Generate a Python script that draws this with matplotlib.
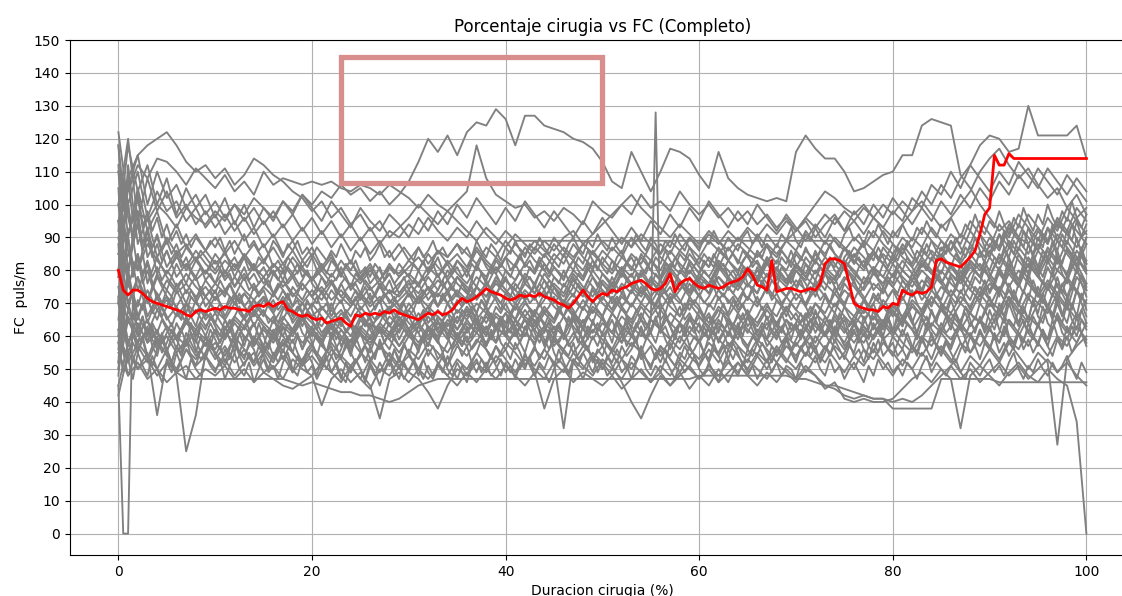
import matplotlib.pyplot as plt
import matplotlib.patches as patches
import numpy as np

# FC (puls/m) de cada cirugia, muestreada de forma uniforme sobre la duracion (0-100 %)
p01 = [85, 92, 98, 95, 100, 97, 93, 99, 96, 94,
       98, 95, 100, 97, 102, 99, 96, 101, 98, 103,
       100, 104, 102, 106, 103, 105, 101, 104, 100, 103,
       107, 113, 120, 116, 121, 115, 122, 125, 124, 129,
       126, 118, 127, 127, 124, 123, 122, 120, 119, 117,
       113, 107, 105, 116, 110, 104, 110, 117, 116, 114,
       109, 105, 116, 108, 105, 103, 102, 101, 102, 101,
       116, 121, 117, 114, 114, 110, 104, 105, 107, 109,
       110, 115, 115, 124, 126, 125, 124, 109, 105, 100,
       96, 92, 95, 90, 88, 93, 89, 94, 91, 96, 99]
p02 = [110, 104, 112, 108, 114, 113, 110, 106, 111, 108,
       105, 109, 104, 107, 103, 110, 106, 108, 107, 106,
       107, 106, 107, 105, 104, 106, 105, 103, 106, 104,
       102, 99, 103, 100, 98, 101, 104, 118, 108, 103,
       101, 99, 100, 96, 98, 95, 99, 97, 94, 101,
       98, 96, 100, 97, 103, 99, 101, 98, 104, 100,
       97, 100, 96, 99, 95, 98, 94, 97, 93, 96,
       92, 95, 90, 94, 97, 92, 95, 91, 96, 93,
       98, 95, 102, 99, 106, 103, 110, 105, 112, 108,
       104, 110, 106, 113, 109, 105, 111, 107, 103, 108, 104]
p03 = [95, 108, 115, 118, 120, 122, 118, 113, 110, 112,
       108, 111, 106, 109, 114, 112, 109, 107, 104, 102,
       98, 101, 96, 99, 94, 97, 92, 95, 90, 93,
       96, 100, 97, 94, 98, 95, 92, 89, 93, 90,
       87, 91, 88, 85, 89, 86, 90, 92, 88, 91,
       94, 97, 100, 103, 99, 96, 93, 90, 94, 91,
       88, 92, 89, 86, 90, 87, 84, 88, 85, 89,
       92, 96, 100, 104, 102, 99, 97, 100, 96, 93,
       90, 94, 98, 101, 97, 93, 96, 100, 104, 110,
       114, 117, 112, 108, 111, 106, 102, 105, 99, 103, 97]
p04 = [78, 85, 80, 88, 83, 79, 84, 81, 86, 82,
       79, 83, 80, 85, 81, 78, 82, 79, 84, 80,
       77, 81, 78, 83, 79, 76, 80, 77, 82, 78,
       81, 84, 80, 86, 82, 85, 81, 87, 83, 80,
       84, 88, 85, 89, 86, 83, 87, 84, 88, 85,
       89, 86, 90, 87, 91, 88, 85, 89, 86, 90,
       87, 91, 88, 92, 89, 93, 90, 94, 91, 95,
       92, 96, 93, 97, 94, 98, 95, 99, 96, 100,
       97, 101, 98, 104, 100, 106, 102, 108, 112, 118,
       121, 120, 116, 117, 130, 121, 121, 121, 121, 124, 114]
p05 = [45, 58, 50, 55, 36, 53, 49, 56, 51, 54,
       50, 53, 48, 52, 55, 49, 51, 47, 53, 50,
       48, 52, 49, 46, 51, 47, 44, 50, 48, 53,
       49, 47, 43, 38, 45, 50, 48, 52, 49, 54,
       51, 48, 53, 50, 47, 52, 49, 55, 51, 48,
       53, 50, 47, 52, 49, 46, 51, 48, 53, 50,
       47, 51, 48, 52, 49, 53, 50, 47, 52, 49,
       46, 50, 48, 45, 44, 42, 41, 42, 41, 41,
       40, 41, 40, 42, 45, 48, 51, 47, 50, 46,
       49, 52, 48, 51, 47, 50, 53, 49, 52, 48, 45]
p06 = [62, 48, 57, 52, 59, 54, 50, 56, 53, 58,
       55, 51, 57, 54, 60, 56, 52, 58, 55, 51,
       54, 50, 56, 53, 49, 55, 52, 57, 54, 50,
       56, 53, 58, 55, 51, 57, 54, 59, 56, 52,
       58, 55, 51, 56, 53, 59, 55, 52, 57, 54,
       50, 56, 53, 58, 55, 51, 57, 54, 60, 56,
       53, 58, 55, 61, 57, 54, 59, 56, 52, 57,
       54, 59, 55, 52, 57, 54, 50, 56, 53, 58,
       55, 51, 57, 54, 59, 56, 52, 58, 55, 61,
       57, 53, 59, 56, 62, 58, 54, 60, 57, 63, 59]
p07 = [70, 55, 64, 58, 61, 56, 60, 57, 62, 59,
       56, 61, 58, 63, 59, 55, 60, 57, 62, 58,
       61, 57, 54, 59, 56, 61, 58, 62, 59, 55,
       60, 57, 62, 58, 55, 60, 57, 61, 58, 63,
       60, 56, 61, 58, 63, 59, 56, 61, 57, 62,
       59, 55, 60, 57, 62, 58, 54, 59, 56, 61,
       58, 63, 59, 56, 61, 57, 62, 59, 55, 60,
       57, 62, 58, 64, 60, 56, 61, 58, 63, 59,
       62, 58, 55, 60, 57, 62, 59, 64, 60, 57,
       62, 58, 65, 61, 57, 63, 59, 66, 62, 58, 64]
p08 = [52, 68, 60, 65, 58, 63, 59, 64, 61, 57,
       62, 59, 64, 60, 57, 62, 58, 63, 60, 65,
       61, 58, 63, 59, 64, 61, 57, 62, 59, 64,
       60, 63, 59, 64, 61, 58, 62, 65, 61, 58,
       63, 60, 65, 62, 58, 63, 60, 66, 62, 59,
       64, 61, 58, 63, 60, 65, 62, 59, 64, 61,
       66, 62, 59, 64, 61, 57, 62, 59, 64, 60,
       63, 59, 64, 61, 66, 62, 58, 63, 60, 65,
       61, 66, 62, 59, 64, 61, 67, 63, 60, 65,
       62, 68, 64, 60, 66, 63, 69, 65, 61, 67, 63]
p09 = [75, 58, 66, 61, 68, 63, 60, 65, 62, 67,
       64, 60, 65, 62, 67, 63, 59, 64, 61, 66,
       62, 59, 64, 60, 57, 62, 59, 63, 60, 65,
       61, 64, 60, 66, 62, 59, 64, 61, 67, 63,
       60, 65, 62, 68, 64, 61, 66, 63, 59, 64,
       61, 67, 63, 60, 65, 62, 68, 64, 61, 66,
       63, 59, 64, 61, 66, 62, 59, 64, 60, 65,
       62, 67, 63, 60, 65, 61, 66, 63, 59, 64,
       60, 65, 62, 67, 63, 69, 65, 62, 67, 64,
       70, 66, 72, 68, 64, 70, 67, 73, 69, 65, 71]
p10 = [90, 70, 78, 66, 72, 65, 69, 64, 68, 63,
       67, 62, 66, 63, 68, 64, 61, 66, 62, 67,
       64, 60, 65, 62, 58, 63, 60, 64, 61, 66,
       62, 67, 63, 60, 65, 62, 68, 64, 61, 66,
       63, 69, 65, 62, 67, 64, 70, 66, 63, 68,
       65, 61, 66, 63, 69, 65, 62, 67, 64, 70,
       66, 63, 68, 65, 61, 66, 63, 68, 64, 69,
       65, 62, 67, 64, 70, 66, 63, 68, 65, 71,
       67, 64, 69, 66, 72, 68, 65, 70, 67, 73,
       69, 75, 71, 67, 73, 70, 76, 72, 68, 78, 74]
p11 = [58, 80, 65, 74, 68, 71, 66, 70, 67, 72,
       68, 65, 70, 66, 71, 67, 64, 69, 65, 70,
       66, 63, 68, 64, 60, 66, 62, 67, 63, 68,
       64, 61, 66, 62, 67, 64, 69, 65, 62, 67,
       64, 70, 66, 63, 68, 65, 71, 67, 64, 69,
       66, 72, 68, 65, 70, 67, 73, 69, 66, 71,
       68, 64, 69, 66, 71, 67, 64, 69, 66, 72,
       68, 65, 70, 67, 73, 69, 66, 71, 68, 64,
       69, 66, 71, 68, 74, 70, 67, 72, 69, 75,
       71, 68, 74, 70, 77, 73, 69, 76, 72, 80, 75]
p12 = [100, 75, 85, 70, 78, 72, 69, 74, 70, 67,
       72, 68, 73, 69, 66, 71, 67, 72, 68, 65,
       70, 66, 62, 67, 64, 69, 65, 61, 66, 63,
       68, 64, 69, 66, 63, 68, 65, 70, 67, 72,
       68, 65, 70, 67, 73, 69, 66, 71, 68, 74,
       70, 67, 72, 69, 75, 71, 68, 73, 70, 76,
       72, 69, 74, 71, 67, 72, 69, 75, 71, 68,
       73, 70, 76, 72, 69, 74, 71, 67, 72, 69,
       74, 71, 77, 73, 70, 75, 72, 78, 74, 71,
       76, 73, 79, 75, 82, 78, 74, 80, 77, 84, 79]
p13 = [65, 90, 74, 82, 71, 77, 73, 76, 72, 75,
       71, 74, 70, 73, 69, 72, 68, 71, 67, 70,
       66, 69, 65, 68, 64, 67, 63, 66, 69, 65,
       68, 72, 69, 73, 70, 74, 71, 75, 72, 76,
       73, 70, 74, 71, 77, 73, 70, 75, 72, 78,
       74, 71, 76, 73, 79, 75, 72, 77, 74, 80,
       76, 73, 78, 75, 71, 76, 73, 79, 75, 72,
       77, 74, 80, 76, 73, 78, 75, 71, 76, 73,
       79, 75, 72, 77, 74, 80, 76, 73, 79, 82,
       78, 85, 81, 77, 84, 80, 87, 83, 79, 86, 82]
p14 = [110, 80, 95, 76, 84, 78, 74, 79, 75, 72,
       76, 73, 78, 74, 71, 75, 72, 77, 73, 70,
       74, 71, 76, 72, 69, 73, 70, 75, 71, 68,
       73, 70, 75, 72, 77, 73, 70, 75, 72, 78,
       74, 71, 76, 73, 79, 75, 72, 77, 74, 80,
       76, 73, 79, 75, 72, 77, 74, 80, 76, 73,
       78, 75, 81, 77, 74, 79, 76, 82, 78, 75,
       80, 77, 83, 79, 76, 81, 78, 74, 79, 76,
       82, 78, 75, 80, 77, 83, 79, 76, 81, 78,
       84, 80, 87, 83, 79, 86, 82, 89, 85, 81, 88]
p15 = [85, 100, 80, 92, 79, 86, 78, 82, 77, 80,
       76, 80, 75, 79, 74, 78, 73, 77, 72, 76,
       72, 75, 71, 74, 70, 73, 69, 72, 68, 71,
       74, 70, 73, 77, 74, 78, 75, 72, 76, 73,
       77, 74, 71, 75, 72, 76, 73, 79, 75, 72,
       77, 74, 80, 76, 73, 78, 75, 81, 77, 74,
       79, 76, 82, 78, 75, 80, 77, 83, 79, 76,
       81, 78, 75, 80, 77, 83, 79, 76, 81, 78,
       75, 80, 77, 83, 79, 76, 82, 78, 85, 81,
       78, 84, 80, 87, 83, 79, 86, 82, 89, 84, 80]
p16 = [95, 78, 104, 84, 90, 81, 86, 80, 84, 79,
       83, 78, 82, 77, 81, 76, 80, 75, 79, 74,
       78, 73, 77, 72, 76, 71, 75, 70, 74, 72,
       76, 73, 78, 74, 80, 76, 73, 78, 75, 81,
       77, 74, 79, 76, 82, 78, 75, 80, 77, 83,
       79, 76, 81, 78, 84, 80, 77, 82, 79, 85,
       81, 78, 83, 80, 76, 81, 78, 84, 80, 77,
       82, 79, 85, 81, 78, 83, 80, 76, 81, 78,
       84, 80, 77, 82, 79, 85, 81, 78, 83, 80,
       86, 82, 89, 85, 81, 88, 84, 91, 87, 83, 90]
p17 = [70, 112, 88, 96, 84, 90, 85, 88, 83, 86,
       82, 85, 81, 84, 80, 83, 79, 82, 78, 81,
       77, 80, 76, 79, 75, 78, 74, 77, 73, 76,
       79, 76, 81, 78, 83, 79, 76, 81, 78, 84,
       80, 77, 82, 79, 85, 81, 78, 83, 80, 86,
       82, 79, 84, 81, 78, 83, 80, 86, 82, 79,
       84, 81, 87, 83, 80, 85, 82, 78, 83, 80,
       86, 82, 79, 84, 81, 87, 83, 80, 85, 82,
       88, 84, 81, 86, 83, 89, 85, 82, 87, 84,
       90, 86, 93, 89, 85, 92, 88, 95, 91, 87, 94]
p18 = [118, 90, 105, 92, 98, 88, 94, 87, 91, 86,
       90, 85, 89, 84, 88, 83, 87, 82, 86, 81,
       85, 80, 84, 79, 83, 78, 82, 77, 81, 79,
       83, 80, 85, 81, 78, 83, 80, 86, 82, 79,
       84, 81, 87, 83, 80, 85, 82, 88, 84, 81,
       86, 83, 80, 85, 82, 88, 84, 81, 86, 83,
       79, 84, 81, 87, 83, 80, 85, 82, 88, 84,
       81, 86, 83, 89, 85, 82, 87, 84, 80, 85,
       82, 88, 84, 81, 86, 83, 89, 85, 92, 88,
       84, 91, 87, 94, 90, 86, 93, 89, 96, 92, 88]
p19 = [100, 120, 95, 108, 98, 104, 96, 100, 94, 98,
       93, 97, 92, 96, 91, 95, 90, 94, 89, 93,
       88, 92, 87, 91, 86, 90, 85, 89, 84, 88,
       83, 87, 82, 86, 84, 88, 85, 82, 87, 84,
       89, 85, 82, 87, 84, 90, 86, 83, 88, 85,
       82, 87, 84, 90, 86, 83, 88, 85, 91, 87,
       84, 89, 86, 83, 88, 85, 91, 87, 84, 89,
       86, 92, 88, 85, 90, 87, 84, 89, 86, 92,
       88, 85, 90, 87, 93, 89, 86, 91, 88, 95,
       91, 87, 94, 90, 97, 93, 89, 96, 92, 99, 95]
p20 = [80, 105, 115, 100, 110, 102, 106, 99, 103, 97,
       101, 96, 100, 95, 99, 94, 98, 93, 97, 92,
       96, 91, 95, 90, 94, 89, 93, 88, 92, 90,
       94, 91, 96, 92, 89, 93, 90, 95, 91, 88,
       92, 89, 89, 89, 89, 89, 89, 89, 89, 89,
       89, 89, 89, 89, 89, 89, 89, 89, 89, 89,
       89, 89, 89, 89, 89, 89, 89, 89, 89, 89,
       89, 89, 89, 89, 89, 86, 90, 87, 92, 88,
       85, 90, 87, 93, 89, 86, 91, 88, 95, 91,
       87, 94, 90, 97, 93, 89, 96, 92, 99, 95, 91]
p21 = [60, 52, 58, 54, 50, 56, 48, 25, 36, 55,
       58, 54, 60, 56, 52, 57, 53, 59, 55, 51,
       56, 52, 49, 54, 51, 47, 53, 49, 55, 51,
       54, 50, 56, 52, 48, 53, 50, 55, 51, 57,
       53, 49, 54, 51, 56, 52, 32, 53, 50, 55,
       52, 48, 53, 50, 55, 51, 57, 53, 49, 54,
       51, 56, 52, 58, 54, 50, 55, 52, 57, 53,
       50, 55, 52, 57, 53, 49, 54, 51, 56, 52,
       48, 53, 50, 55, 51, 57, 53, 49, 54, 51,
       56, 52, 58, 54, 50, 55, 52, 27, 53, 57, 60]
p22 = [45, 0, 0, 72, 60, 66, 58, 63, 57, 61, 55, 60, 56, 62, 58, 64, 59, 55, 60, 57,
       62, 58, 63, 59, 55, 61, 57, 62, 58, 64, 60, 56, 61, 57, 63, 59, 55, 60, 56, 62,
       58, 54, 59, 55, 61, 57, 53, 58, 54, 60, 56, 52, 57, 53, 59, 55, 51, 56, 52, 58,
       54, 59, 55, 61, 57, 62, 58, 64, 60, 56, 61, 57, 63, 59, 65, 61, 57, 62, 58, 64,
       60, 66, 62, 58, 63, 59, 65, 61, 57, 62, 58, 64, 60, 66, 62, 58, 63, 59, 65, 61,
       57, 62, 58, 64, 60, 66, 62, 58, 63, 59, 65, 128, 61, 67, 63, 59, 64, 60, 66, 62,
       58, 63, 59, 65, 61, 67, 63, 59, 64, 60, 66, 62, 58, 63, 59, 65, 61, 67, 63, 59,
       64, 60, 66, 62, 68, 64, 60, 65, 61, 67, 63, 59, 64, 60, 66, 62, 68, 64, 60, 65,
       61, 67, 63, 69, 65, 61, 66, 62, 68, 64, 70, 66, 62, 67, 63, 69, 65, 61, 66, 62,
       68, 64, 70, 66, 72, 68, 64, 69, 65, 71, 67, 73, 69, 65, 70, 66, 72, 68, 74, 70,
       66]
p23 = [55, 48, 52, 47, 50, 46, 49, 47, 47, 47,
       47, 47, 47, 47, 47, 47, 47, 47, 46, 45,
       46, 45, 44, 43, 43, 42, 42, 41, 40, 41,
       43, 45, 46, 47, 47, 47, 47, 47, 47, 47,
       47, 47, 47, 47, 47, 47, 47, 47, 47, 47,
       47, 47, 47, 47, 47, 47, 47, 47, 47, 47,
       48, 48, 48, 48, 48, 48, 48, 48, 48, 48,
       47, 47, 46, 45, 45, 44, 43, 42, 41, 41,
       38, 38, 38, 38, 38, 47, 47, 47, 47, 47,
       47, 46, 46, 46, 46, 46, 46, 46, 46, 46, 46]
p24 = [50, 65, 58, 62, 56, 60, 55, 59, 54, 58,
       53, 57, 52, 56, 51, 55, 50, 54, 49, 53,
       57, 53, 58, 54, 59, 55, 60, 56, 61, 57,
       62, 58, 63, 59, 64, 60, 65, 61, 66, 62,
       67, 63, 68, 64, 69, 65, 70, 66, 71, 67,
       72, 68, 73, 69, 74, 70, 75, 71, 76, 72,
       77, 73, 78, 74, 79, 75, 80, 76, 81, 77,
       82, 78, 83, 79, 84, 80, 85, 81, 86, 82,
       78, 83, 79, 84, 80, 76, 81, 77, 82, 78,
       74, 79, 75, 80, 76, 72, 77, 73, 78, 74, 70]
p25 = [122, 100, 110, 96, 104, 98, 101, 95, 99, 93,
       97, 91, 95, 89, 93, 87, 91, 85, 89, 83,
       87, 81, 85, 79, 83, 77, 81, 75, 79, 73,
       77, 71, 75, 69, 73, 67, 71, 65, 69, 63,
       67, 61, 65, 59, 63, 57, 61, 55, 59, 53,
       57, 51, 46, 40, 35, 42, 48, 45, 49, 44,
       48, 45, 50, 46, 52, 48, 54, 50, 56, 52,
       58, 54, 60, 56, 62, 58, 64, 60, 66, 62,
       68, 64, 70, 66, 72, 68, 74, 70, 76, 72,
       78, 74, 80, 76, 82, 78, 84, 80, 86, 82, 76]
p26 = [92, 118, 104, 112, 100, 108, 97, 105, 99, 103,
       96, 102, 94, 100, 93, 99, 95, 101, 97, 103,
       99, 95, 101, 97, 93, 99, 95, 92, 97, 94,
       90, 96, 92, 98, 94, 100, 96, 102, 98, 94,
       99, 95, 101, 97, 93, 98, 94, 90, 95, 91,
       96, 92, 88, 93, 89, 95, 91, 97, 93, 99,
       95, 101, 97, 93, 98, 94, 100, 96, 92, 97,
       93, 89, 94, 90, 96, 92, 98, 94, 100, 96,
       102, 98, 94, 99, 95, 101, 97, 103, 99, 105,
       101, 107, 103, 109, 105, 111, 107, 103, 109, 105, 101]
p27 = [42, 55, 50, 53, 48, 52, 49, 51, 47, 50,
       48, 51, 47, 50, 46, 49, 47, 45, 44, 46,
       48, 39, 47, 50, 46, 49, 45, 35, 47, 49,
       46, 50, 47, 51, 48, 45, 49, 46, 50, 47,
       51, 48, 45, 49, 38, 47, 50, 46, 49, 47,
       45, 48, 44, 47, 50, 46, 49, 45, 48, 51,
       47, 50, 46, 49, 52, 48, 45, 49, 46, 50,
       47, 51, 48, 44, 46, 41, 40, 41, 40, 40,
       41, 44, 47, 49, 46, 50, 47, 32, 48, 51,
       48, 45, 49, 52, 48, 46, 50, 47, 45, 34, 0]

# cirugias con registro mas denso (un valor cada 0.5 %)
q01 = [58, 49, 53, 47, 55, 51, 48, 54, 50, 46, 52, 49, 55, 51, 47, 53, 50, 48, 54, 51,
       49, 53, 47, 51, 55, 50, 48, 52, 46, 50, 53, 49, 51, 47, 52, 55, 50, 48, 53, 49,
       51, 47, 50, 54, 49, 52, 48, 46, 51, 53, 50, 47, 52, 49, 45, 50, 53, 48, 51, 47,
       50, 52, 48, 53, 49, 47, 51, 54, 50, 48, 52, 49, 46, 51, 53, 49, 52, 48, 50, 53,
       49, 51, 47, 52, 50, 54, 48, 51, 49, 46, 50, 53, 51, 48, 52, 50, 47, 51, 54, 49,
       52, 48, 50, 53, 49, 51, 47, 52, 55, 50, 48, 51, 49, 53, 50, 47, 52, 49, 51, 54,
       50, 48, 52, 49, 46, 51, 53, 50, 48, 52, 49, 51, 47, 50, 53, 49, 52, 48, 51, 50,
       47, 52, 49, 51, 54, 50, 48, 53, 49, 51, 47, 50, 52, 49, 46, 51, 48, 53, 50, 52,
       49, 51, 48, 52, 50, 47, 51, 54, 49, 52, 50, 48, 51, 53, 49, 47, 52, 50, 48, 51,
       53, 49, 51, 48, 52, 55, 50, 47, 51, 49, 53, 50, 48, 52, 49, 51, 54, 50, 47, 52,
       49]
q02 = [62, 57, 53, 58, 55, 60, 54, 51, 56, 59, 55, 52, 57, 54, 58, 61, 56, 53, 55, 59,
       54, 57, 52, 56, 60, 55, 53, 58, 56, 51, 55, 58, 54, 57, 53, 56, 59, 55, 52, 56,
       58, 54, 51, 55, 57, 53, 56, 60, 55, 52, 54, 57, 53, 55, 58, 54, 51, 56, 53, 57,
       55, 52, 56, 59, 54, 57, 53, 55, 51, 56, 58, 54, 57, 52, 55, 59, 56, 53, 57, 54,
       56, 53, 58, 55, 51, 54, 57, 53, 56, 60, 55, 52, 56, 54, 58, 53, 55, 57, 52, 56,
       54, 58, 55, 52, 57, 54, 56, 59, 53, 55, 57, 53, 56, 52, 58, 55, 53, 57, 54, 56,
       59, 55, 52, 56, 54, 57, 53, 58, 55, 51, 56, 54, 58, 55, 52, 57, 54, 56, 60, 55,
       53, 56, 58, 54, 57, 52, 55, 59, 56, 53, 55, 58, 54, 56, 52, 57, 55, 59, 54, 56,
       58, 54, 56, 53, 57, 55, 60, 56, 53, 57, 54, 58, 55, 52, 56, 59, 55, 57, 53, 58,
       56, 60, 55, 58, 54, 57, 61, 56, 59, 55, 58, 62, 57, 54, 59, 56, 60, 55, 58, 61,
       57]
q03 = [48, 64, 58, 61, 56, 59, 63, 57, 60, 55, 58, 62, 59, 56, 61, 58, 55, 60, 57, 62,
       59, 56, 60, 63, 58, 55, 59, 61, 57, 60, 56, 58, 62, 59, 55, 60, 58, 61, 56, 59,
       57, 61, 58, 55, 59, 62, 57, 60, 56, 58, 61, 57, 55, 59, 62, 58, 56, 60, 57, 59,
       62, 58, 56, 60, 57, 61, 59, 55, 58, 62, 59, 57, 60, 56, 58, 61, 57, 60, 63, 58,
       56, 59, 61, 58, 55, 60, 57, 62, 59, 56, 60, 58, 61, 57, 59, 63, 58, 56, 60, 57,
       61, 58, 56, 59, 62, 57, 60, 58, 55, 59, 61, 58, 63, 59, 56, 60, 58, 62, 57, 60,
       58, 55, 60, 62, 58, 61, 57, 59, 63, 58, 56, 60, 58, 61, 57, 59, 62, 58, 60, 56,
       59, 62, 58, 60, 56, 59, 61, 58, 63, 60, 57, 59, 62, 58, 61, 57, 60, 63, 59, 56,
       60, 58, 62, 59, 56, 61, 58, 64, 60, 57, 61, 59, 56, 60, 63, 59, 61, 58, 62, 59,
       63, 59, 61, 66, 60, 58, 62, 65, 61, 59, 64, 60, 57, 62, 66, 61, 59, 63, 60, 65,
       62]
q04 = [72, 60, 66, 62, 58, 63, 65, 60, 62, 58, 61, 64, 59, 62, 66, 61, 58, 63, 60, 64,
       61, 58, 62, 65, 60, 63, 59, 61, 64, 60, 57, 62, 59, 63, 60, 58, 62, 65, 61, 59,
       63, 60, 57, 61, 64, 59, 62, 60, 58, 63, 61, 59, 64, 60, 62, 58, 61, 63, 59, 62,
       60, 64, 61, 58, 62, 60, 65, 61, 59, 63, 60, 62, 58, 61, 64, 60, 63, 59, 62, 65,
       61, 59, 63, 60, 62, 66, 61, 58, 62, 64, 60, 63, 59, 61, 65, 62, 59, 63, 61, 64,
       60, 62, 65, 61, 58, 63, 60, 64, 61, 59, 62, 66, 61, 63, 59, 62, 64, 60, 63, 61,
       64, 60, 62, 58, 63, 61, 65, 62, 59, 63, 61, 64, 60, 62, 66, 61, 59, 63, 60, 64,
       62, 59, 63, 65, 61, 64, 60, 62, 58, 63, 65, 61, 64, 60, 62, 59, 64, 61, 63, 66,
       61, 63, 60, 64, 62, 59, 63, 66, 62, 60, 64, 61, 63, 67, 62, 60, 64, 62, 65, 61,
       64, 67, 62, 60, 65, 63, 68, 64, 61, 66, 63, 69, 64, 62, 67, 64, 70, 65, 62, 68,
       64]
q05 = [56, 70, 64, 67, 62, 66, 60, 64, 61, 65, 62, 59, 64, 61, 66, 63, 60, 64, 62, 66,
       63, 60, 65, 62, 59, 63, 66, 62, 64, 60, 63, 61, 65, 62, 60, 64, 61, 63, 66, 62,
       60, 64, 61, 63, 59, 62, 65, 61, 63, 60, 62, 65, 62, 59, 63, 61, 64, 60, 62, 65,
       62, 59, 63, 66, 62, 64, 61, 63, 60, 65, 62, 64, 61, 63, 67, 62, 60, 64, 62, 65,
       63, 61, 65, 62, 60, 64, 67, 63, 61, 65, 62, 64, 60, 63, 66, 62, 65, 61, 64, 62,
       66, 63, 61, 65, 62, 64, 60, 63, 67, 64, 61, 65, 62, 66, 63, 60, 64, 62, 65, 63,
       61, 64, 66, 62, 65, 63, 60, 64, 62, 67, 63, 65, 61, 64, 62, 66, 63, 61, 65, 62,
       64, 67, 63, 61, 65, 62, 66, 64, 60, 64, 66, 63, 65, 61, 64, 67, 62, 65, 63, 66,
       62, 65, 63, 67, 64, 61, 65, 63, 68, 64, 62, 66, 64, 61, 65, 67, 63, 66, 64, 68,
       65, 62, 67, 64, 70, 66, 63, 68, 65, 71, 66, 64, 69, 66, 72, 67, 64, 70, 66, 73,
       68]
q06 = [95, 72, 68, 74, 66, 70, 64, 68, 65, 69, 66, 63, 67, 65, 70, 66, 63, 68, 65, 67,
       64, 68, 65, 62, 66, 69, 65, 67, 63, 66, 68, 64, 66, 62, 65, 68, 64, 66, 63, 67,
       65, 62, 66, 64, 60, 65, 63, 67, 64, 61, 65, 63, 66, 62, 64, 67, 63, 65, 61, 64,
       66, 63, 65, 68, 64, 66, 62, 65, 67, 63, 66, 64, 68, 65, 62, 66, 64, 67, 63, 66,
       64, 67, 65, 62, 66, 68, 64, 66, 63, 67, 65, 69, 66, 63, 67, 65, 62, 66, 64, 68,
       66, 63, 67, 65, 69, 66, 64, 68, 65, 62, 66, 68, 65, 67, 63, 66, 69, 65, 67, 64,
       68, 65, 67, 64, 66, 70, 66, 63, 67, 65, 68, 64, 66, 69, 65, 67, 63, 66, 68, 65,
       67, 64, 66, 69, 65, 68, 66, 63, 67, 65, 69, 66, 64, 68, 65, 67, 70, 66, 64, 68,
       66, 69, 65, 67, 64, 68, 66, 70, 67, 65, 68, 66, 71, 67, 64, 69, 67, 65, 70, 68,
       72, 68, 66, 71, 69, 74, 70, 67, 72, 69, 75, 71, 68, 73, 70, 76, 72, 69, 74, 71,
       76]
q07 = [52, 76, 70, 65, 71, 68, 72, 67, 70, 66, 69, 72, 68, 65, 70, 67, 71, 68, 66, 70,
       67, 70, 66, 69, 72, 67, 65, 69, 71, 68, 66, 70, 67, 64, 68, 70, 66, 69, 67, 71,
       68, 65, 69, 67, 70, 66, 64, 68, 66, 69, 67, 63, 67, 65, 68, 66, 69, 65, 67, 70,
       66, 68, 64, 67, 69, 65, 68, 66, 70, 67, 64, 68, 66, 69, 67, 71, 68, 65, 69, 67,
       70, 67, 65, 69, 71, 68, 66, 70, 67, 69, 72, 68, 66, 70, 68, 65, 69, 67, 71, 68,
       66, 70, 68, 72, 69, 67, 70, 68, 65, 69, 71, 68, 70, 67, 72, 69, 66, 70, 68, 71,
       69, 66, 70, 68, 72, 69, 67, 71, 68, 70, 66, 69, 72, 68, 70, 67, 71, 69, 66, 70,
       68, 71, 69, 66, 70, 68, 72, 69, 67, 71, 69, 73, 70, 67, 71, 68, 70, 73, 69, 67,
       70, 68, 72, 69, 74, 70, 67, 71, 69, 73, 70, 68, 72, 70, 74, 71, 68, 72, 70, 75,
       71, 69, 74, 71, 76, 72, 69, 74, 71, 77, 73, 70, 75, 72, 78, 73, 70, 76, 73, 79,
       74]
q08 = [88, 64, 78, 72, 69, 74, 71, 68, 73, 70, 72, 69, 74, 71, 67, 72, 70, 73, 69, 71,
       74, 70, 68, 72, 70, 73, 69, 71, 67, 70, 72, 69, 71, 68, 70, 73, 69, 71, 67, 70,
       69, 72, 68, 70, 66, 69, 71, 67, 69, 72, 68, 70, 67, 69, 71, 66, 68, 71, 69, 67,
       70, 68, 72, 69, 67, 71, 69, 73, 70, 68, 71, 69, 72, 70, 67, 71, 69, 73, 71, 68,
       72, 70, 68, 71, 73, 70, 72, 69, 71, 74, 70, 72, 69, 71, 73, 70, 68, 72, 70, 73,
       71, 74, 70, 72, 69, 71, 74, 72, 70, 73, 71, 69, 72, 74, 70, 73, 71, 68, 72, 70,
       73, 70, 72, 75, 71, 73, 70, 72, 69, 73, 71, 74, 70, 72, 75, 71, 73, 70, 72, 74,
       71, 73, 69, 72, 74, 71, 73, 70, 75, 72, 70, 73, 71, 74, 72, 69, 73, 71, 75, 72,
       74, 71, 73, 76, 72, 74, 71, 73, 77, 73, 71, 75, 72, 74, 78, 73, 71, 75, 73, 77,
       73, 76, 72, 78, 74, 71, 76, 73, 79, 75, 72, 77, 74, 80, 75, 73, 78, 74, 81, 76,
       72]
q09 = [60, 84, 76, 72, 78, 74, 71, 75, 73, 70, 74, 72, 76, 73, 70, 74, 71, 75, 72, 74,
       71, 74, 72, 76, 73, 70, 73, 71, 75, 72, 74, 70, 73, 71, 74, 72, 69, 73, 71, 74,
       72, 70, 74, 71, 68, 72, 70, 73, 71, 69, 72, 70, 73, 68, 71, 73, 70, 72, 69, 71,
       73, 70, 72, 74, 71, 73, 69, 72, 74, 71, 73, 70, 72, 75, 71, 73, 70, 74, 72, 70,
       73, 75, 72, 74, 71, 73, 76, 72, 74, 71, 75, 73, 70, 74, 72, 76, 73, 71, 75, 73,
       74, 72, 76, 73, 75, 71, 74, 76, 73, 75, 72, 74, 77, 73, 75, 72, 74, 76, 73, 75,
       72, 75, 73, 77, 74, 72, 75, 73, 76, 74, 71, 75, 73, 77, 74, 72, 76, 74, 72, 75,
       74, 77, 73, 75, 72, 76, 74, 78, 75, 72, 76, 74, 77, 73, 75, 78, 74, 76, 73, 77,
       75, 73, 77, 75, 79, 76, 73, 77, 75, 79, 76, 74, 78, 75, 80, 76, 74, 78, 76, 81,
       77, 75, 80, 77, 82, 78, 75, 80, 77, 83, 79, 76, 81, 78, 84, 79, 76, 82, 79, 85,
       80]
q10 = [105, 82, 90, 78, 84, 76, 80, 75, 79, 76, 74, 78, 75, 77, 73, 76, 78, 74, 77, 75,
       73, 77, 74, 76, 72, 75, 78, 74, 76, 73, 75, 77, 73, 76, 74, 71, 75, 73, 76, 74,
       72, 75, 73, 71, 74, 72, 76, 73, 71, 74, 72, 75, 71, 73, 76, 72, 74, 71, 73, 75,
       72, 74, 76, 73, 75, 72, 74, 77, 73, 75, 72, 76, 74, 71, 75, 73, 77, 74, 72, 76,
       74, 72, 76, 74, 78, 75, 73, 76, 74, 77, 75, 72, 76, 74, 78, 75, 73, 77, 75, 73,
       76, 74, 78, 75, 73, 77, 75, 79, 76, 74, 77, 75, 73, 77, 79, 75, 77, 74, 78, 76,
       74, 77, 75, 79, 76, 74, 78, 75, 77, 80, 76, 74, 78, 76, 73, 77, 75, 79, 76, 78,
       75, 78, 76, 73, 77, 75, 79, 76, 78, 74, 77, 79, 76, 74, 78, 76, 80, 77, 75, 78,
       76, 80, 77, 75, 79, 77, 74, 78, 76, 81, 77, 75, 79, 77, 82, 78, 76, 80, 78, 83,
       79, 77, 81, 78, 84, 80, 77, 82, 79, 85, 81, 78, 83, 80, 86, 81, 78, 84, 81, 87,
       82]
q11 = [70, 96, 86, 80, 85, 79, 83, 78, 81, 77, 80, 78, 82, 79, 76, 80, 78, 81, 77, 79,
       76, 80, 77, 79, 75, 78, 81, 77, 79, 76, 78, 75, 79, 77, 80, 76, 78, 75, 77, 80,
       76, 74, 78, 75, 77, 73, 76, 78, 74, 76, 73, 77, 75, 72, 76, 74, 77, 73, 75, 78,
       74, 77, 75, 78, 74, 76, 79, 75, 77, 74, 78, 76, 73, 77, 75, 79, 76, 74, 77, 75,
       78, 75, 77, 80, 76, 78, 75, 79, 77, 74, 78, 76, 80, 77, 75, 79, 77, 81, 78, 75,
       79, 77, 75, 79, 81, 77, 79, 76, 80, 78, 75, 79, 77, 81, 78, 76, 80, 78, 82, 79,
       77, 80, 78, 76, 80, 82, 78, 80, 77, 81, 79, 77, 81, 79, 83, 79, 77, 81, 79, 76,
       80, 78, 82, 79, 77, 81, 79, 83, 80, 78, 82, 79, 77, 81, 83, 79, 81, 78, 82, 80,
       78, 82, 80, 84, 81, 78, 82, 80, 84, 81, 79, 83, 81, 85, 82, 79, 83, 81, 86, 82,
       80, 84, 82, 87, 83, 80, 85, 82, 88, 84, 81, 86, 83, 89, 84, 82, 87, 84, 90, 85,
       83]
q12 = [112, 92, 100, 88, 94, 86, 90, 84, 88, 83, 86, 82, 85, 81, 84, 80, 83, 81, 79, 82,
       80, 83, 79, 82, 78, 81, 84, 80, 82, 79, 81, 78, 82, 80, 77, 81, 79, 82, 78, 80,
       77, 80, 78, 76, 79, 77, 81, 78, 75, 79, 77, 80, 76, 78, 81, 77, 79, 76, 78, 80,
       78, 76, 80, 77, 79, 82, 78, 80, 77, 79, 81, 78, 80, 77, 82, 79, 77, 81, 79, 76,
       80, 78, 82, 79, 77, 81, 79, 83, 80, 78, 81, 79, 77, 81, 83, 80, 78, 82, 80, 84,
       81, 79, 83, 80, 78, 82, 80, 84, 81, 79, 83, 81, 78, 82, 80, 84, 81, 79, 83, 81,
       79, 83, 81, 85, 82, 80, 83, 81, 79, 83, 85, 81, 83, 80, 84, 82, 80, 84, 82, 86,
       82, 80, 84, 82, 86, 83, 81, 84, 82, 80, 84, 86, 82, 84, 81, 85, 83, 87, 84, 81,
       85, 83, 87, 84, 82, 86, 84, 88, 85, 83, 87, 85, 89, 86, 83, 87, 85, 90, 86, 84,
       88, 86, 91, 87, 84, 89, 86, 92, 88, 85, 90, 87, 93, 89, 86, 91, 88, 94, 89, 86,
       90]
q13 = [78, 108, 96, 90, 98, 88, 93, 87, 91, 86, 89, 85, 88, 84, 87, 85, 83, 86, 84, 82,
       85, 83, 86, 82, 84, 81, 85, 83, 80, 84, 82, 85, 81, 83, 80, 84, 82, 79, 83, 81,
       84, 80, 82, 79, 83, 81, 78, 82, 80, 83, 79, 81, 78, 82, 80, 77, 81, 79, 82, 80,
       78, 82, 80, 83, 79, 81, 84, 80, 82, 79, 83, 81, 78, 82, 80, 84, 81, 79, 83, 81,
       84, 80, 82, 85, 81, 83, 80, 84, 82, 79, 83, 81, 85, 82, 80, 84, 82, 86, 83, 80,
       84, 82, 80, 84, 86, 82, 84, 81, 85, 83, 80, 84, 82, 86, 83, 81, 85, 83, 87, 84,
       82, 85, 83, 81, 85, 87, 83, 85, 82, 86, 84, 82, 86, 84, 88, 84, 82, 86, 84, 81,
       85, 83, 87, 84, 82, 86, 84, 88, 85, 83, 87, 84, 82, 86, 88, 84, 86, 83, 87, 85,
       83, 87, 85, 89, 86, 83, 87, 85, 89, 86, 84, 88, 86, 90, 87, 84, 88, 86, 91, 87,
       85, 89, 87, 92, 88, 85, 90, 87, 93, 89, 86, 91, 88, 94, 89, 87, 92, 89, 95, 90,
       92]
q14 = [118, 98, 108, 95, 102, 93, 98, 92, 96, 90, 94, 89, 92, 88, 91, 87, 90, 88, 86, 89,
       87, 90, 86, 89, 85, 88, 91, 87, 89, 86, 88, 85, 89, 87, 84, 88, 86, 89, 85, 87,
       84, 87, 85, 83, 86, 84, 88, 85, 82, 86, 84, 87, 83, 85, 88, 84, 86, 83, 85, 87,
       85, 83, 87, 84, 86, 89, 85, 87, 84, 86, 88, 85, 87, 84, 89, 86, 84, 88, 86, 83,
       87, 85, 89, 86, 84, 88, 86, 90, 87, 85, 88, 86, 84, 88, 90, 87, 85, 89, 87, 91,
       88, 86, 90, 87, 85, 89, 87, 91, 88, 86, 90, 88, 85, 89, 87, 91, 88, 86, 90, 88,
       86, 90, 88, 92, 89, 87, 90, 88, 86, 90, 92, 88, 90, 87, 91, 89, 87, 91, 89, 93,
       89, 87, 91, 89, 93, 90, 88, 91, 89, 87, 91, 93, 89, 91, 88, 92, 90, 94, 91, 88,
       92, 90, 94, 91, 89, 93, 91, 95, 92, 90, 94, 92, 96, 93, 90, 94, 92, 97, 93, 91,
       95, 93, 98, 94, 91, 96, 93, 99, 95, 92, 97, 94, 100, 96, 93, 98, 95, 101, 96, 93,
       97]
q15 = [50, 68, 57, 62, 55, 59, 53, 57, 54, 60, 56, 52, 57, 55, 59, 54, 51, 56, 53, 58,
       55, 51, 56, 53, 58, 54, 51, 55, 52, 57, 54, 50, 55, 52, 56, 53, 49, 54, 51, 55,
       52, 48, 53, 50, 54, 51, 47, 52, 49, 53, 50, 46, 51, 48, 52, 49, 53, 50, 47, 52,
       49, 53, 50, 47, 51, 48, 52, 49, 54, 50, 47, 51, 48, 52, 49, 53, 50, 54, 51, 48,
       52, 49, 53, 50, 55, 51, 48, 52, 50, 54, 51, 56, 52, 49, 53, 51, 55, 52, 49, 53,
       50, 54, 52, 56, 53, 50, 54, 52, 57, 53, 50, 55, 52, 56, 53, 51, 55, 53, 57, 54,
       51, 55, 53, 58, 54, 51, 56, 53, 57, 54, 52, 56, 54, 58, 55, 52, 56, 54, 59, 55,
       52, 57, 54, 58, 55, 53, 57, 54, 59, 56, 53, 57, 55, 60, 56, 53, 58, 55, 60, 56,
       54, 58, 56, 61, 57, 54, 59, 56, 61, 57, 55, 59, 57, 62, 58, 55, 60, 57, 62, 58,
       56, 61, 58, 63, 59, 56, 61, 58, 64, 60, 57, 62, 59, 65, 60, 57, 63, 60, 66, 61,
       58]

pacientes = [p01, p02, p03, p04, p05, p06, p07, p08, p09, p10, p11, p12, p13, p14,
             p15, p16, p17, p18, p19, p20, p21, p22, p23, p24, p25, p26, p27,
             q01, q02, q03, q04, q05, q06, q07, q08, q09, q10, q11, q12, q13, q14, q15]

# curva en rojo, un valor cada 0.5 %
fc_media = [80, 74, 72.5, 74, 74, 73, 71.5, 70.5, 70, 69.5, 69, 68.5, 68, 67.5, 66.5, 66, 67.5, 68, 67.5, 68,
            68.5, 68, 69, 68.5, 68.5, 68, 68, 67.5, 69, 69.5, 69, 70, 69, 70, 70.5, 68, 67.5, 66.5, 66, 66.5,
            65.5, 65, 65.5, 64, 64.5, 65, 65.5, 64, 63, 66.5, 66, 67, 66.5, 67, 66.5, 67.5, 67, 68, 67, 66.5,
            66, 65.5, 65, 66, 67, 66.5, 67.5, 66.5, 67, 68, 70, 71.5, 70.5, 71, 72, 73, 74.5, 73.5, 73, 72.5,
            71.5, 71, 71.5, 72.5, 72, 72.5, 72, 73, 72, 71.5, 71, 70, 69.5, 68.5, 70, 72, 74, 72, 70.5, 72,
            73, 72.5, 74, 73.5, 74.5, 75, 76, 76.5, 77, 76, 74.5, 74, 74.5, 76, 79, 73.5, 76, 77, 77.5, 76,
            75, 74.5, 75.5, 75, 74.5, 75, 76, 76.5, 77, 78, 80.5, 78.5, 75.5, 75, 74, 83, 73.5, 74, 74.5, 74.5,
            74, 73.5, 74, 74.5, 74, 76, 82, 83.5, 83.5, 83, 82, 76, 70, 69, 68.5, 68, 68, 67.5, 69, 68.5,
            70, 69.5, 74, 73, 72.5, 73.5, 73, 73.5, 75, 83, 83.5, 82.5, 82, 81.5, 81, 82.5, 84, 86, 91, 97,
            99, 115, 112, 112, 115.5, 114, 114, 114, 114, 114, 114, 114, 114, 114, 114, 114, 114, 114, 114, 114,
            114]

# zona resaltada: (inicio %, fin %, FC min, FC max)
zona = (23, 50, 106.5, 145)

fig = plt.figure(figsize=(11.22, 5.96), dpi=100)
ax = fig.add_axes([0.0624, 0.0688, 0.949, 0.864])

for fc in pacientes:
    x = np.linspace(0, 100, len(fc))
    ax.plot(x, fc, color="grey", linewidth=1.35)

x = np.linspace(0, 100, len(fc_media))
ax.plot(x, fc_media, color="red", linewidth=2)

ax.add_patch(patches.Rectangle((zona[0], zona[2]), zona[1] - zona[0], zona[3] - zona[2],
                               fill=False, edgecolor="#d98e8e", linewidth=3.8, zorder=5))

ax.set_xlim(-5, 105)
ax.set_ylim(-6.5, 150)
ax.set_yticks(np.arange(0, 151, 10))
ax.set_xticks([0, 20, 40, 60, 80, 100])
ax.spines["right"].set_visible(False)
ax.grid(True)
ax.set_title("Porcentaje cirugia vs FC (Completo)")
ax.set_xlabel("Duracion cirugia (%)")
ax.set_ylabel("FC  puls/m")

plt.savefig("out.png")
